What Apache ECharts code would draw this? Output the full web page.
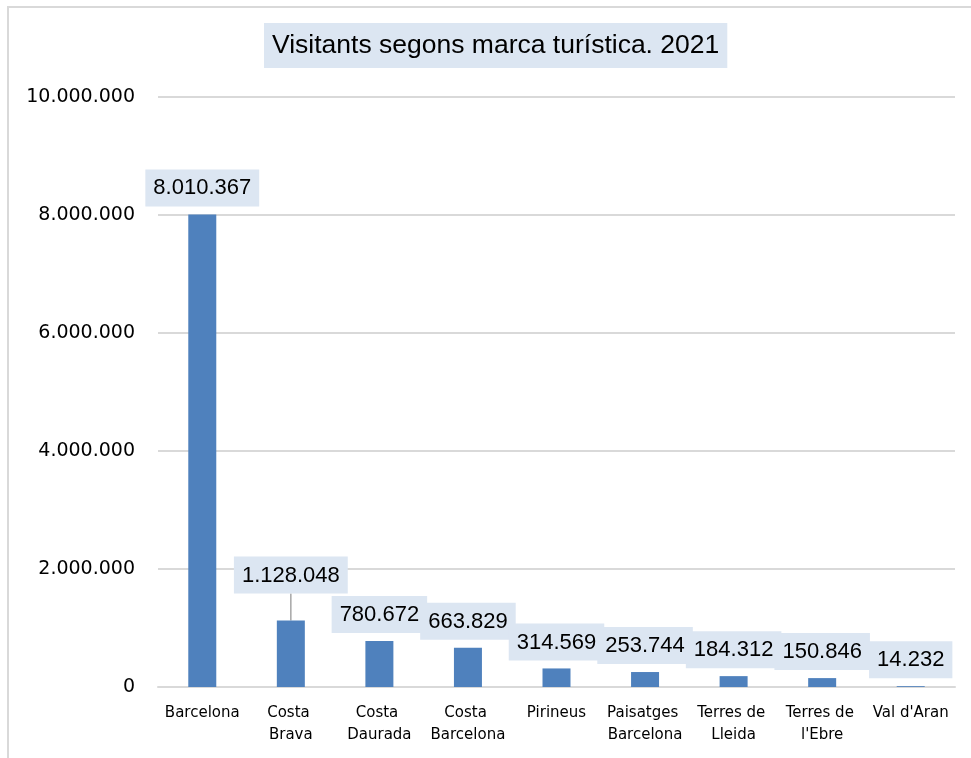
<!DOCTYPE html>
<html><head><meta charset="utf-8">
<script src="https://cdn.jsdelivr.net/npm/echarts@6/dist/echarts.min.js"></script>
<style>html,body{margin:0;padding:0;background:#fff}#c{width:971px;height:758px}</style>
</head><body><div id="c"></div>
<script>
const titleText = 'Visitants segons marca turística. 2021';
const categories = ['Barcelona', 'Costa Brava', 'Costa Daurada', 'Costa Barcelona', 'Pirineus', 'Paisatges Barcelona', 'Terres de Lleida', "Terres de l'Ebre", "Val d'Aran"];
const visitants = [8010367, 1128048, 780672, 663829, 314569, 253744, 184312, 150846, 14232];
const yTicks = [0, 2000000, 4000000, 6000000, 8000000, 10000000];
const leaderLineIndex = 1;

function fmt(v) {
  return String(Math.round(v)).replace(/\B(?=(\d{3})+(?!\d))/g, '.');
}

const seriesData = visitants.map((v, i) => i === leaderLineIndex
  ? {value: v, labelLine: {show: true, lineStyle: {color: '#a6a6a6', width: 1.5}}}
  : v);

const chart = echarts.init(document.getElementById('c'), null, {renderer: 'canvas'});
chart.setOption({
  animation: false,
  backgroundColor: '#fff',
  graphic: [{
    type: 'rect', z: -1,
    shape: {x: 8, y: 7, width: 1000, height: 1000},
    style: {fill: '#fff', stroke: '#d9d9d9', lineWidth: 2}
  }],
  title: {
    text: titleText,
    left: 264, top: 23,
    backgroundColor: '#dce6f2',
    padding: [8, 8, 8, 8],
    textStyle: {fontFamily: 'Liberation Sans', fontSize: 26.5, fontWeight: 'normal', color: '#000', lineHeight: 29}
  },
  grid: {left: 158, right: 16, top: 97, bottom: 71},
  xAxis: {
    type: 'category',
    data: categories,
    axisTick: {show: false},
    axisLine: {lineStyle: {color: '#d9d9d9', width: 2}},
    axisLabel: {
      interval: 0, margin: 15, color: '#000',
      fontFamily: 'DejaVu Sans', fontSize: 15, lineHeight: 22,
      width: 86, overflow: 'break'
    }
  },
  yAxis: {
    type: 'value', min: yTicks[0], max: yTicks[yTicks.length - 1], interval: yTicks[1] - yTicks[0],
    axisLine: {show: false}, axisTick: {show: false},
    splitLine: {lineStyle: {color: '#d9d9d9', width: 2}},
    axisLabel: {margin: 23, color: '#000', fontFamily: 'DejaVu Sans', fontSize: 19, formatter: fmt}
  },
  series: [{
    type: 'bar',
    data: seriesData,
    barWidth: 28,
    itemStyle: {color: '#4f81bd'},
    label: {
      show: true, position: 'top', distance: 8,
      formatter: p => fmt(p.value),
      fontFamily: 'Liberation Sans', fontSize: 22, color: '#000',
      backgroundColor: '#dce6f2', padding: [8, 8, 7, 8], lineHeight: 22
    },
    labelLine: {show: false},
    labelLayout: function (p) {
      if (p.dataIndex === leaderLineIndex) return {dy: -19};
      return {};
    }
  }]
});
</script></body></html>
